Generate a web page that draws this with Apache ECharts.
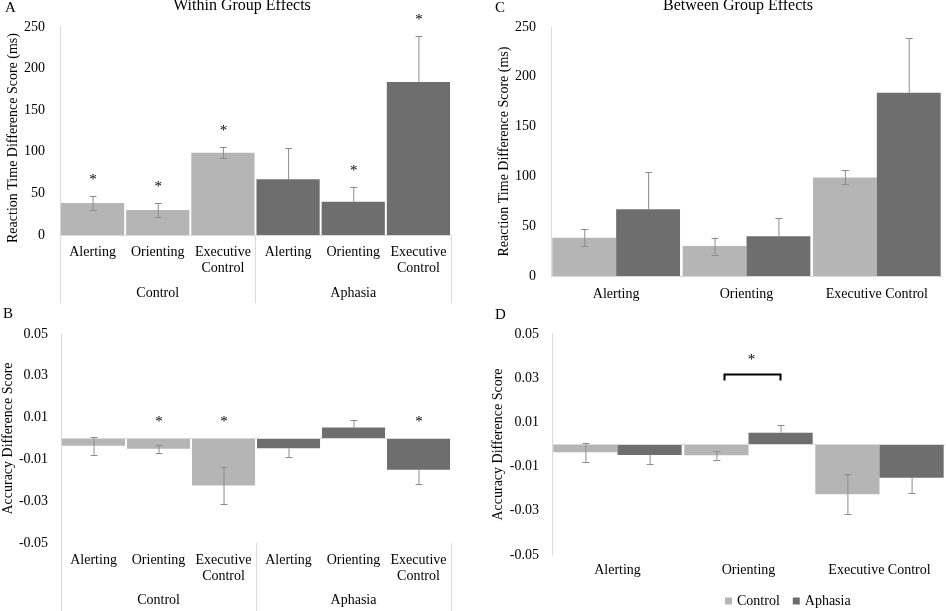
<!DOCTYPE html>
<html><head><meta charset="utf-8">
<script src="https://cdn.jsdelivr.net/npm/echarts@6/dist/echarts.min.js"></script>
<style>html,body{margin:0;padding:0;background:#fff}#c{width:946px;height:611px}</style>
</head><body><div id="c"></div>
<script>
// ---- data ----
const measures = ['Alerting', 'Orienting', 'Executive Control'];
const groups = ['Control', 'Aphasia'];
// reaction time difference scores (ms)
const rtControl = [38.5, 30, 99];
const rtControlErr = [8.5, 8.5, 7];
const rtAphasia = [67, 40, 184];
const rtAphasiaErr = [37.5, 18, 55];
// accuracy difference scores
const accControl = [-0.0035, -0.0049, -0.0225];
const accControlErr = [0.0043, 0.002, 0.009];
const accAphasia = [-0.0047, 0.0053, -0.015];
const accAphasiaErr = [0.0042, 0.0034, 0.007];
// significance markers (within group)
const rtControlSig = [1, 1, 1];
const rtAphasiaSig = [0, 1, 1];
const accControlSig = [0, 1, 1];
const accAphasiaSig = [0, 0, 1];
// significance (between groups, accuracy)
const accBetweenSig = [0, 1, 0];
// axis ticks
const rtTicks = [0, 50, 100, 150, 200, 250];
const accTicks = [-0.05, -0.03, -0.01, 0.01, 0.03, 0.05];

// ---- styles ----
const FONT = "'Liberation Serif', 'Times New Roman', serif";
const CTRL = '#b5b5b5';
const APH = '#6e6e6e';
const AXIS = '#d9d9d9';
const ERR = '#8c8c8c';
const TXT = '#000';

const cats6 = measures.concat(measures);

function star(x, y) {
  return { type: 'text', x: x, y: y, style: { text: '*', font: '15px ' + FONT, fill: TXT, align: 'center', verticalAlign: 'middle', textAlign: 'center', textVerticalAlign: 'middle' } };
}

function errRender(side) {
  return function (params, api) {
    const x = api.value(0), v = api.value(1), e = api.value(2), oneSide = api.value(3), sig = api.value(4);
    let cx = api.coord([x, v])[0];
    if (side) { const bw = api.size([1, 0])[0]; cx += side * bw * 0.98 / 4; }
    const dir = v >= 0 ? 1 : -1;
    const yOut = api.coord([x, v + dir * e])[1];
    const yIn = api.coord([x, oneSide ? v : v - dir * e])[1];
    const ls = { stroke: ERR, lineWidth: 1 };
    const ch = [
      { type: 'line', shape: { x1: cx + 0.5, y1: yOut, x2: cx + 0.5, y2: yIn }, style: ls },
      { type: 'line', shape: { x1: cx - 3, y1: Math.round(yOut) + 0.5, x2: cx + 4, y2: Math.round(yOut) + 0.5 }, style: ls }
    ];
    if (!oneSide) ch.push({ type: 'line', shape: { x1: cx - 3, y1: Math.round(yIn) + 0.5, x2: cx + 4, y2: Math.round(yIn) + 0.5 }, style: ls });
    if (sig) {
      const anchor = v >= 0 ? v + e : 0;
      const ya = api.coord([x, anchor])[1];
      ch.push(star(cx + 0.5, ya - 16));
    }
    return { type: 'group', children: ch };
  };
}

function rows(vals, errs, oneSide, sigs, offset) {
  return vals.map((v, i) => [i + (offset || 0), v, errs[i], oneSide, sigs[i]]);
}

const labelStyle = { fontFamily: FONT, fontSize: 14, color: TXT };

function catAxis(grid, data, opts) {
  return Object.assign({
    type: 'category', gridIndex: grid, data: data, position: 'bottom',
    axisLine: { show: true, onZero: false, lineStyle: { color: AXIS } },
    axisTick: { show: false },
    axisLabel: Object.assign({ interval: 0, margin: 9, lineHeight: 16 }, labelStyle),
    splitLine: { show: false }
  }, opts);
}
function groupAxis(grid, len, margin) {
  return {
    type: 'category', gridIndex: grid, data: groups, position: 'bottom',
    axisLine: { show: false, onZero: false },
    axisTick: { show: true, length: len, lineStyle: { color: AXIS } },
    axisLabel: Object.assign({ margin: margin }, labelStyle),
    splitLine: { show: false }
  };
}
function rtAxis(grid, gap, pad) {
  return {
    type: 'value', gridIndex: grid, min: rtTicks[0], max: rtTicks[rtTicks.length - 1], interval: 50,
    axisLine: { show: true, lineStyle: { color: AXIS } }, axisTick: { show: false }, splitLine: { show: false },
    axisLabel: Object.assign({ margin: 15 }, labelStyle),
    name: 'Reaction Time Difference Score (ms)', nameLocation: 'middle', nameGap: gap, nameRotate: 90,
    nameTextStyle: Object.assign({ padding: pad || 0 }, labelStyle)
  };
}
function accAxis(grid, gap) {
  return {
    type: 'value', gridIndex: grid, min: accTicks[0], max: accTicks[accTicks.length - 1], interval: 0.01,
    axisLine: { show: true, lineStyle: { color: AXIS } }, axisTick: { show: false }, splitLine: { show: false },
    axisLabel: Object.assign({
      margin: 13,
      formatter: function (v) {
        const k = Math.round(v * 100);
        return accTicks.some(t => Math.round(t * 100) === k) ? (k / 100).toFixed(2) : '';
      }
    }, labelStyle),
    name: 'Accuracy Difference Score', nameLocation: 'middle', nameGap: gap, nameRotate: 90,
    nameTextStyle: labelStyle
  };
}
const zeroLine = {
  silent: true, symbol: ['none', 'none'], label: { show: false },
  lineStyle: { color: AXIS, type: 'solid', width: 1 }, data: [{ yAxis: 0 }]
};

function coloredBars(c, a) {
  return c.map(v => ({ value: v, itemStyle: { color: CTRL } })).concat(a.map(v => ({ value: v, itemStyle: { color: APH } })));
}

const chart = echarts.init(document.getElementById('c'), null, { renderer: 'canvas' });
const txt = (t, x, y, size, align) => ({
  type: 'text', x: x, y: y, silent: true,
  style: { text: t, font: size + 'px ' + FONT, fill: TXT, align: align || 'left', textAlign: align || 'left', verticalAlign: 'middle', textVerticalAlign: 'middle' }
});

chart.setOption({
  animation: false,
  backgroundColor: '#fff',
  textStyle: { fontFamily: FONT },
  graphic: [
    txt('A', 5, 8, 15), txt('Within Group Effects', 242, 6, 16, 'center'),
    txt('C', 495, 8, 15), txt('Between Group Effects', 738, 6, 16, 'center'),
    txt('B', 3, 314, 15), txt('D', 495, 315, 15)
  ],
  legend: {
    data: groups, left: 720, top: 589, icon: 'rect', itemWidth: 7, itemHeight: 7, itemGap: 13,
    textStyle: labelStyle, selectedMode: false
  },
  grid: [
    { left: 60, top: 27, width: 391, height: 208 },
    { left: 58, top: 334, width: 393, height: 209 },
    { left: 551, top: 27, width: 391, height: 249 },
    { left: 552, top: 334, width: 393, height: 221 }
  ],
  xAxis: [
    catAxis(0, cats6, { axisLabel: Object.assign({ interval: 0, margin: 9, lineHeight: 16, formatter: v => v.replace(' ', '\n') }, labelStyle) }),
    groupAxis(0, 68, 51),
    catAxis(1, cats6, { axisLine: { show: false, onZero: false }, axisLabel: Object.assign({ interval: 0, margin: 9, lineHeight: 16, formatter: v => v.replace(' ', '\n') }, labelStyle) }),
    groupAxis(1, 68, 50),
    catAxis(2, measures, { axisLabel: Object.assign({ interval: 0, margin: 11 }, labelStyle) }),
    catAxis(3, measures, { axisLine: { show: false, onZero: false }, axisLabel: Object.assign({ interval: 0, margin: 8 }, labelStyle) })
  ],
  yAxis: [rtAxis(0, 36, [0, 14, 0, 0]), accAxis(1, 46), rtAxis(2, 39), accAxis(3, 47)],
  series: [
    // Panel A
    { type: 'bar', name: 'Within RT', xAxisIndex: 0, yAxisIndex: 0, data: coloredBars(rtControl, rtAphasia), barCategoryGap: '3%' },
    { type: 'custom', xAxisIndex: 0, yAxisIndex: 0, silent: true, z: 5, renderItem: errRender(0),
      data: rows(rtControl, rtControlErr, 0, rtControlSig, 0).concat(rows(rtAphasia, rtAphasiaErr, 1, rtAphasiaSig, 3)) },
    // Panel B
    { type: 'bar', name: 'Within Acc', xAxisIndex: 2, yAxisIndex: 1, data: coloredBars(accControl, accAphasia), barCategoryGap: '3%', markLine: zeroLine },
    { type: 'custom', xAxisIndex: 2, yAxisIndex: 1, silent: true, z: 5, renderItem: errRender(0),
      data: rows(accControl, accControlErr, 0, accControlSig, 0).concat(rows(accAphasia, accAphasiaErr, 1, accAphasiaSig, 3)) },
    // Panel C
    { type: 'bar', name: 'Control', xAxisIndex: 4, yAxisIndex: 2, data: rtControl, itemStyle: { color: CTRL }, barGap: '0%', barCategoryGap: '2%' },
    { type: 'bar', name: 'Aphasia', xAxisIndex: 4, yAxisIndex: 2, data: rtAphasia, itemStyle: { color: APH }, barGap: '0%', barCategoryGap: '2%' },
    { type: 'custom', xAxisIndex: 4, yAxisIndex: 2, silent: true, z: 5, renderItem: errRender(-1),
      data: rows(rtControl, rtControlErr, 0, [0, 0, 0], 0) },
    { type: 'custom', xAxisIndex: 4, yAxisIndex: 2, silent: true, z: 5, renderItem: errRender(1),
      data: rows(rtAphasia, rtAphasiaErr, 1, [0, 0, 0], 0) },
    // Panel D
    { type: 'bar', name: 'Control', xAxisIndex: 5, yAxisIndex: 3, data: accControl, itemStyle: { color: CTRL }, barGap: '0%', barCategoryGap: '2%', markLine: zeroLine },
    { type: 'bar', name: 'Aphasia', xAxisIndex: 5, yAxisIndex: 3, data: accAphasia, itemStyle: { color: APH }, barGap: '0%', barCategoryGap: '2%' },
    { type: 'custom', xAxisIndex: 5, yAxisIndex: 3, silent: true, z: 5, renderItem: errRender(-1),
      data: rows(accControl, accControlErr, 0, [0, 0, 0], 0) },
    { type: 'custom', xAxisIndex: 5, yAxisIndex: 3, silent: true, z: 5, renderItem: errRender(1),
      data: rows(accAphasia, accAphasiaErr, 1, [0, 0, 0], 0) },
    // bracket for between-group significance
    { type: 'custom', xAxisIndex: 5, yAxisIndex: 3, silent: true, z: 6,
      data: accBetweenSig.map((s, i) => [i, Math.max(accControl[i] + accControlErr[i], accAphasia[i] + accAphasiaErr[i]), s]),
      renderItem: function (params, api) {
        if (!api.value(2)) return null;
        const c = api.coord([api.value(0), api.value(1)]);
        const yb = Math.round(c[1] - 51) + 0.5;
        const xl = c[0] - 24, xr = c[0] + 32;
        const ls = { stroke: '#000', lineWidth: 2, fill: null };
        return { type: 'group', children: [
          { type: 'polyline', shape: { points: [[xl, yb + 6], [xl, yb], [xr, yb], [xr, yb + 6]] }, style: ls },
          star(c[0] + 3, yb - 14)
        ] };
      }
    }
  ]
});
</script>
</body></html>
